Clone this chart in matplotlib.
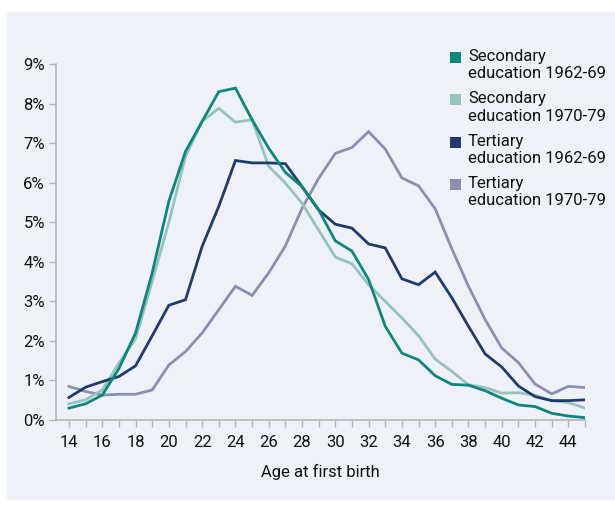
import numpy as np
import matplotlib.pyplot as plt
from matplotlib.patches import Rectangle
from matplotlib import font_manager

# pick a narrow-ish font if available
names = set(f.name for f in font_manager.fontManager.ttflist)
fam = 'Liberation Sans Narrow' if 'Liberation Sans Narrow' in names else 'Roboto'
plt.rcParams['font.family'] = [fam, 'DejaVu Sans']

ages = list(range(14, 46))

# share of first births (%) by age
sec_6269 = [0.30, 0.41, 0.63, 1.30, 2.20, 3.72, 5.53, 6.79, 7.55, 8.30, 8.39, 7.59, 6.87, 6.26,
            5.90, 5.31, 4.53, 4.27, 3.55, 2.37, 1.69, 1.52, 1.12, 0.90, 0.88, 0.74, 0.55, 0.38,
            0.34, 0.17, 0.10, 0.06]
sec_7079 = [0.41, 0.51, 0.76, 1.44, 2.05, 3.50, 5.00, 6.66, 7.55, 7.88, 7.53, 7.59, 6.41, 5.99,
            5.48, 4.80, 4.12, 3.95, 3.42, 3.00, 2.58, 2.13, 1.54, 1.23, 0.89, 0.82, 0.68, 0.69,
            0.63, 0.49, 0.44, 0.30]
ter_6269 = [0.57, 0.83, 0.97, 1.10, 1.37, 2.13, 2.90, 3.04, 4.39, 5.40, 6.56, 6.50, 6.50, 6.48,
            5.90, 5.31, 4.95, 4.85, 4.45, 4.35, 3.57, 3.42, 3.74, 3.09, 2.37, 1.67, 1.34, 0.86,
            0.59, 0.49, 0.49, 0.51]
ter_7079 = [0.85, 0.72, 0.63, 0.65, 0.65, 0.76, 1.39, 1.73, 2.20, 2.79, 3.38, 3.15, 3.72, 4.40,
            5.35, 6.11, 6.74, 6.89, 7.29, 6.85, 6.12, 5.92, 5.34, 4.33, 3.38, 2.54, 1.82, 1.45,
            0.91, 0.66, 0.85, 0.82]

series = [sec_6269, sec_7079, ter_6269, ter_7079]
labels = ['Secondary\neducation 1962-69', 'Secondary\neducation 1970-79',
          'Tertiary\neducation 1962-69', 'Tertiary\neducation 1970-79']
colors = ['#0b877c', '#95c3bd', '#1f3a6c', '#8a8fb2']
# draw order: light ones first
order = [3, 1, 2, 0]

bg = '#eef2f8'
fig = plt.figure(figsize=(6.15, 5.05), dpi=100, facecolor='white')
fig.add_artist(Rectangle((7 / 615, 5 / 505), 1 - 7 / 615, 1 - 17 / 505,
                         transform=fig.transFigure, facecolor=bg, edgecolor='none', zorder=0))

ax = fig.add_axes([56 / 615, 1 - 420 / 505, (585 - 56) / 615, (420 - 64) / 505])
ax.patch.set_visible(False)

for i in order:
    ax.plot(ages, series[i], color=colors[i], lw=2.0, solid_joinstyle='miter')

ax.set_xlim(13.22, 45)
ax.set_ylim(0, 9)
ax.set_xticks(range(14, 46))
ax.set_xticklabels([str(a) if a % 2 == 0 else '' for a in ages])
ax.set_yticks(range(0, 10))
ax.set_yticklabels([f'{v}%' for v in range(0, 10)])
for s in ['top', 'right']:
    ax.spines[s].set_visible(False)
for s in ['left', 'bottom']:
    ax.spines[s].set_color('#b5b5b5')
    ax.spines[s].set_linewidth(1.2)
ax.tick_params(axis='both', color='#b5b5b5', width=1.0, length=5, labelsize=12, labelcolor='#111111')
ax.tick_params(axis='x', pad=6)
ax.tick_params(axis='y', pad=3)
ax.set_xlabel('Age at first birth', fontsize=12, color='#111111', labelpad=10)

# legend: squares + two-line labels
for k in range(4):
    top = 52 + k * 42.3
    fig.add_artist(Rectangle((450 / 615, 1 - (top + 11) / 505), 11 / 615, 11 / 505,
                             transform=fig.transFigure, facecolor=colors[k], edgecolor='none'))
    fig.text(468 / 615, 1 - (top - 3) / 505, labels[k], fontsize=12, color='#111111',
             va='top', ha='left', linespacing=1.2)

fig.savefig('out.png', dpi=100, facecolor='white')
